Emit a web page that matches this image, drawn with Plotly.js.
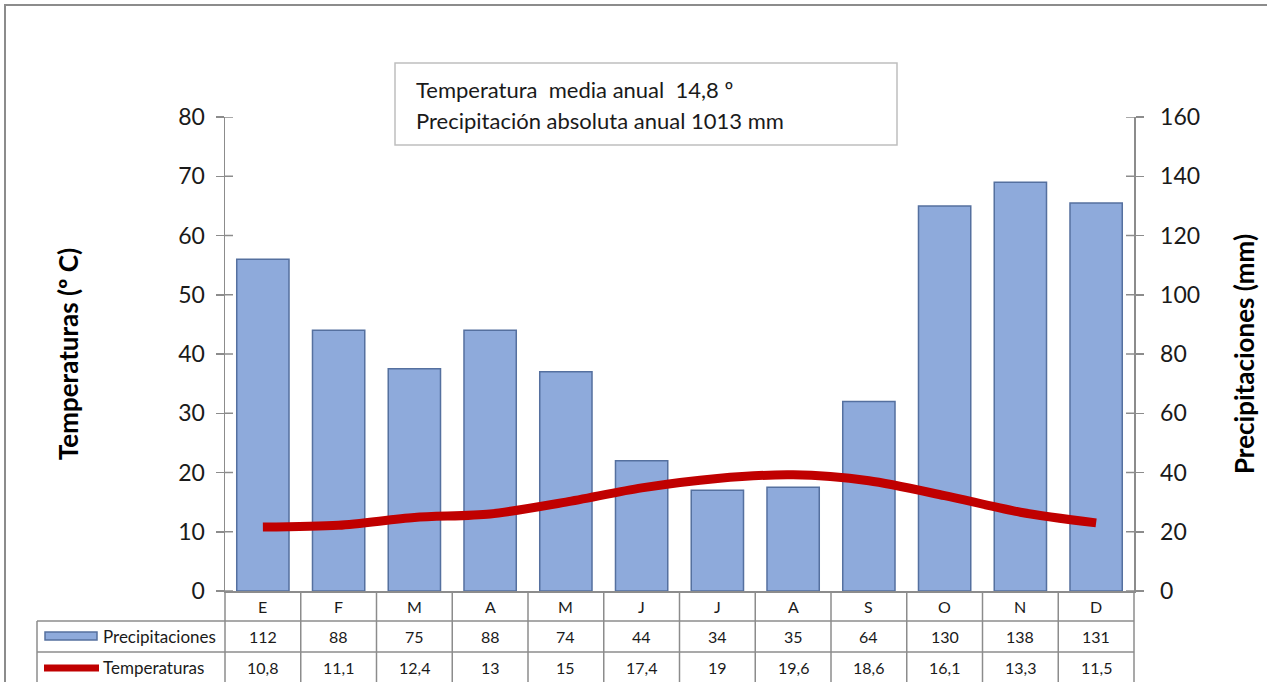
<!DOCTYPE html>
<html><head><meta charset="utf-8">
<script src="https://cdn.plot.ly/plotly-3.0.1.min.js"></script>
<style>html,body{margin:0;padding:0;background:#fff}#chart{width:1267px;height:682px}</style>
</head><body><div id="chart"></div>
<script>
const months = ['E','F','M','A','M','J','J','A','S','O','N','D'];
const precip = [112,88,75,88,74,44,34,35,64,130,138,131];
const temps = [10.8,11.1,12.4,13,15,17.4,19,19.6,18.6,16.1,13.3,11.5];
const tempLabels = ['10,8','11,1','12,4','13','15','17,4','19','19,6','18,6','16,1','13,3','11,5'];
const leftTicks = [0,10,20,30,40,50,60,70,80];
const rightTicks = [0,20,40,60,80,100,120,140,160];
const infoLines = ['Temperatura  media anual  14,8 º','Precipitación absoluta anual 1013 mm'];

const FONT = 'Lato, "Open Sans", sans-serif';
const L = 225, R = 1134, T = 117, B = 591, W = 1267, H = 682;
const px = x => (x - L) / (R - L);
const py = y => (B - y) / (B - T);
const xIdx = months.map((m,i)=>i);
const gridC = '#8c8c8c';
const txtC = '#1a1a1a';

const traces = [
  {type:'bar', x:xIdx, y:precip, yaxis:'y', width:0.69,
   marker:{color:'#8eaadb', line:{color:'#55709f', width:1.5}}, hoverinfo:'y'},
  {type:'scatter', mode:'lines', x:xIdx, y:temps, yaxis:'y2',
   line:{color:'#c00000', width:9, shape:'spline', smoothing:0.8}}
];

const shapes = [];
const annotations = [];
const line = (x0,y0,x1,y1,c,w) => shapes.push({type:'line',xref:'paper',yref:'paper',x0:px(x0),y0:py(y0),x1:px(x1),y1:py(y1),line:{color:c||gridC,width:w||1.5}});
const text = (x,y,t,xa,size) => annotations.push({xref:'paper',yref:'paper',x:px(x),y:py(y),xanchor:xa||'center',yanchor:'middle',text:t,showarrow:false,font:{family:FONT,size:size||16,color:txtC}});

// outer frame
shapes.push({type:'rect',xref:'paper',yref:'paper',x0:px(5),y0:py(5),x1:px(1290),y1:py(700),line:{color:'#8c8c8c',width:2}});
// info box
shapes.push({type:'rect',xref:'paper',yref:'paper',x0:px(395),y0:py(63),x1:px(897),y1:py(145),line:{color:'#bfbfbf',width:1.5},fillcolor:'#fff'});
infoLines.forEach((t,i)=>text(414, 90+i*30, t, 'left', 22));

// inner halves of the crossing axis ticks
leftTicks.forEach(v=>shapes.push({type:'line',xref:'paper',yref:'y2',x0:px(L),x1:px(L+8),y0:v,y1:v,line:{color:gridC,width:1.5}}));
rightTicks.forEach(v=>shapes.push({type:'line',xref:'paper',yref:'y',x0:px(R-8),x1:px(R),y0:v,y1:v,line:{color:gridC,width:1.5}}));

// table lines
const colW = (R - L) / months.length;
line(L,621,R,621); line(37,621,L,621);
line(37,652,R,652);
line(37,621,37,690);
for (let k=0;k<=months.length;k++){ line(L+k*colW,591,L+k*colW,690); }

// table text
const rowsY = [606,636,667];
months.forEach((m,i)=>{
  const xc = L+(i+0.5)*colW;
  text(xc, rowsY[0], m, 'center', 16);
  text(xc, rowsY[1], String(precip[i]));
  text(xc, rowsY[2], tempLabels[i]);
});
// legend keys in table
shapes.push({type:'rect',xref:'paper',yref:'paper',x0:px(45),y0:py(632),x1:px(97),y1:py(640),fillcolor:'#8eaadb',line:{color:'#55709f',width:1.5}});
shapes.push({type:'line',xref:'paper',yref:'paper',x0:px(44),y0:py(668),x1:px(99),y1:py(668),line:{color:'#c00000',width:7}});
text(101, rowsY[1], 'Precipitaciones', 'left', 17);
text(101, rowsY[2], 'Temperaturas', 'left', 17);

const axBase = {showline:true, linecolor:gridC, linewidth:1.5, showgrid:false, zeroline:false,
  ticks:'outside', ticklen:8, tickwidth:1.5, tickcolor:gridC,
  tickfont:{family:FONT,size:23,color:txtC}};

const layout = {
  width:W, height:H,
  margin:{l:L, r:W-R, t:T, b:H-B, pad:0},
  paper_bgcolor:'#fff', plot_bgcolor:'rgba(0,0,0,0)',
  showlegend:false,
  xaxis:{type:'linear', range:[-0.5, months.length-0.5], showticklabels:false, ticks:'', showgrid:false, zeroline:false,
         showline:true, linecolor:gridC, linewidth:1.5},
  yaxis:Object.assign({}, axBase, {range:[0,160], tickvals:rightTicks, side:'right', ticklabelstandoff:12,
         title:{text:'<b>Precipitaciones (mm)</b>', font:{family:FONT,size:26,color:'#000'}, standoff:36}}),
  yaxis2:Object.assign({}, axBase, {range:[0,80], tickvals:leftTicks, overlaying:'y', side:'left', ticklabelstandoff:6,
         title:{text:'<b>Temperaturas (º C)</b>', font:{family:FONT,size:26,color:'#000'}, standoff:92}}),
  shapes, annotations
};

Plotly.newPlot('chart', traces, layout, {displayModeBar:false, staticPlot:true});
</script></body></html>
